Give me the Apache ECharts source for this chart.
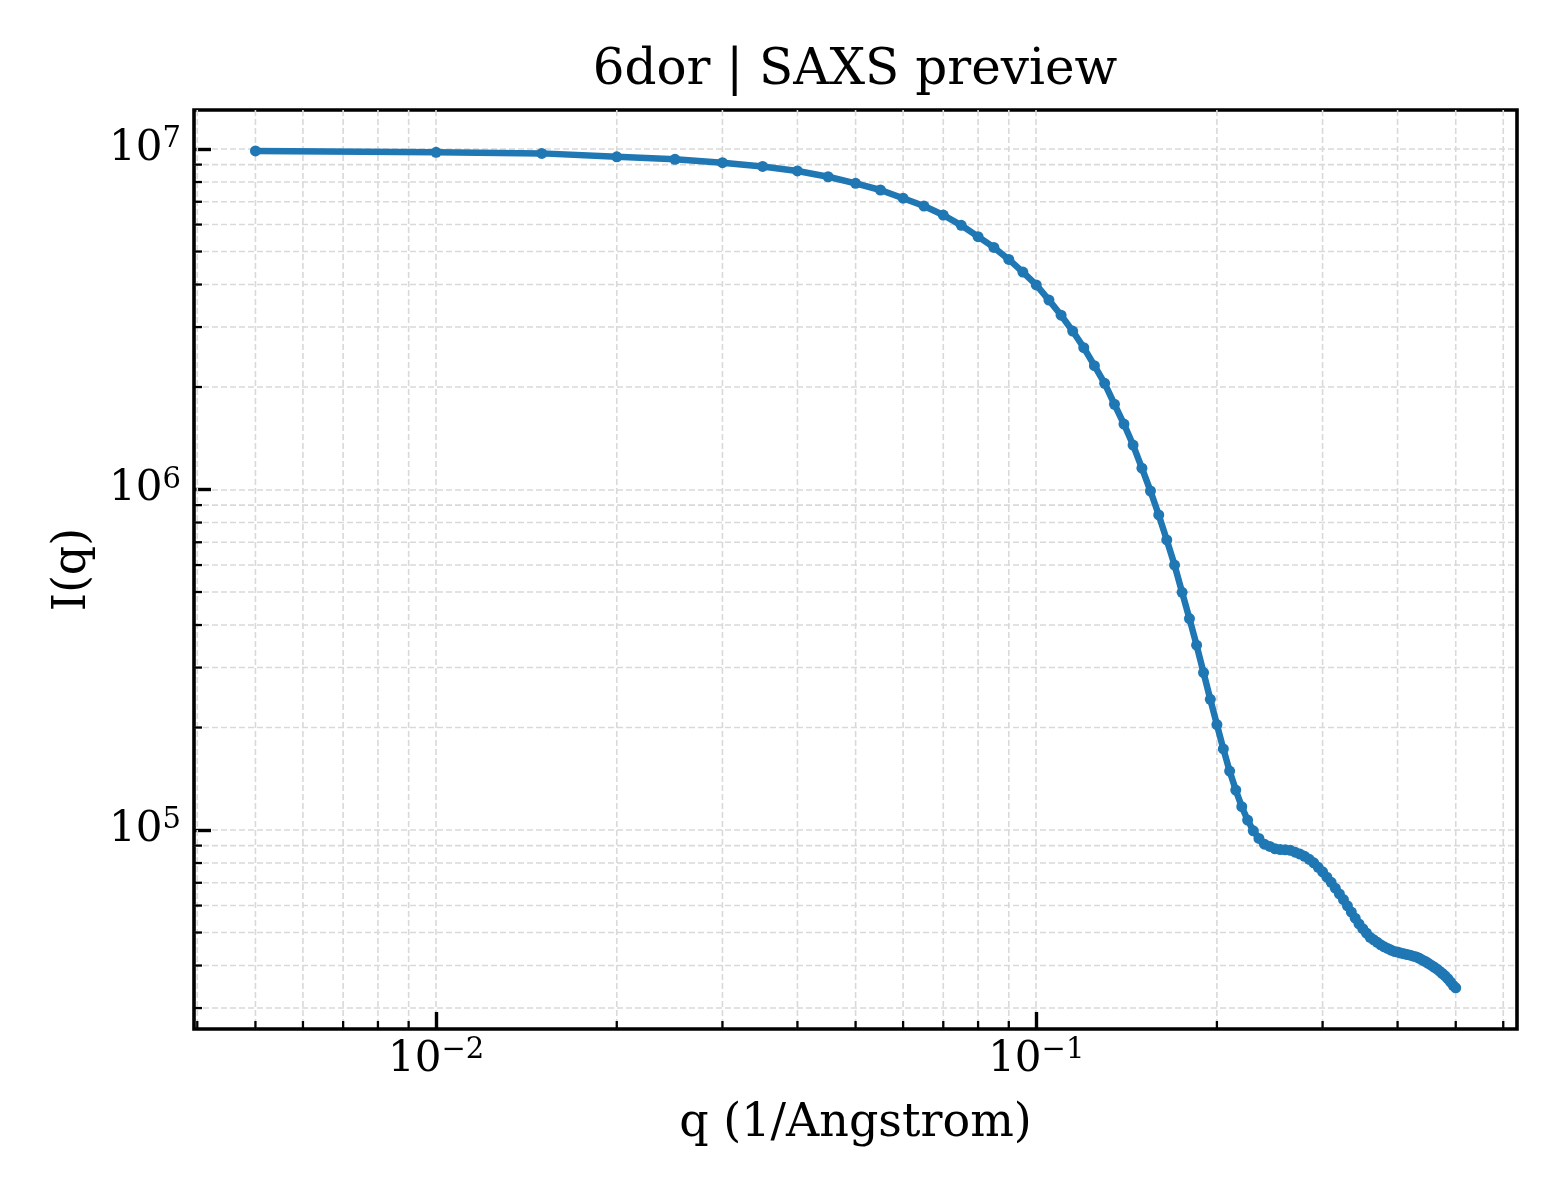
<!DOCTYPE html>
<html>
<head>
<meta charset="utf-8">
<script src="https://cdn.jsdelivr.net/npm/echarts@6/dist/echarts.min.js"></script>
<style>
  html, body { margin: 0; padding: 0; background: #fff; }
  #chart { width: 1560px; height: 1200px; }
</style>
</head>
<body>
<div id="chart"></div>
<script>
// q values (1/Angstrom)
const qValues = [
  0.005, 0.010, 0.015, 0.020, 0.025, 0.030, 0.035, 0.040, 0.045, 0.050,
  0.055, 0.060, 0.065, 0.070, 0.075, 0.080, 0.085, 0.090, 0.095, 0.100,
  0.105, 0.110, 0.115, 0.120, 0.125, 0.130, 0.135, 0.140, 0.145, 0.150,
  0.155, 0.160, 0.165, 0.170, 0.175, 0.180, 0.185, 0.190, 0.195, 0.200,
  0.205, 0.210, 0.215, 0.220, 0.225, 0.230, 0.235, 0.240, 0.245, 0.250,
  0.255, 0.260, 0.265, 0.270, 0.275, 0.280, 0.285, 0.290, 0.295, 0.300,
  0.305, 0.310, 0.315, 0.320, 0.325, 0.330, 0.335, 0.340, 0.345, 0.350,
  0.355, 0.360, 0.365, 0.370, 0.375, 0.380, 0.385, 0.390, 0.395, 0.400,
  0.405, 0.410, 0.415, 0.420, 0.425, 0.430, 0.435, 0.440, 0.445, 0.450,
  0.455, 0.460, 0.465, 0.470, 0.475, 0.480, 0.485, 0.490, 0.495, 0.500
];

// I(q)
const intensity = [
  9.87e6, 9.78e6, 9.71e6, 9.49e6, 9.33e6, 9.12e6, 8.89e6, 8.62e6, 8.29e6, 7.93e6,
  7.58e6, 7.17e6, 6.80e6, 6.40e6, 5.97e6, 5.53e6, 5.14e6, 4.74e6, 4.35e6, 3.99e6,
  3.60e6, 3.25e6, 2.92e6, 2.61e6, 2.31e6, 2.05e6, 1.78e6, 1.557e6, 1.351e6, 1.155e6,
  9.90e5, 8.42e5, 7.11e5, 6.00e5, 4.99e5, 4.18e5, 3.49e5, 2.90e5, 2.42e5, 2.04e5,
  1.73e5, 1.49e5, 1.31e5, 1.171e5, 1.070e5, 9.95e4, 9.45e4, 9.09e4, 8.95e4, 8.81e4,
  8.76e4, 8.75e4, 8.72e4, 8.61e4, 8.50e4, 8.37e4, 8.20e4, 8.01e4, 7.77e4, 7.54e4,
  7.27e4, 7.02e4, 6.75e4, 6.49e4, 6.25e4, 5.99e4, 5.74e4, 5.51e4, 5.30e4, 5.13e4,
  4.98e4, 4.84e4, 4.76e4, 4.68e4, 4.60e4, 4.54e4, 4.49e4, 4.44e4, 4.40e4, 4.38e4,
  4.35e4, 4.33e4, 4.31e4, 4.29e4, 4.26e4, 4.24e4, 4.20e4, 4.15e4, 4.11e4, 4.06e4,
  4.01e4, 3.96e4, 3.91e4, 3.85e4, 3.79e4, 3.73e4, 3.66e4, 3.58e4, 3.50e4, 3.44e4
];

// minor tick positions (log axes)
const xMinorTicks = [
  0.004, 0.005, 0.006, 0.007, 0.008, 0.009,
  0.02, 0.03, 0.04, 0.05, 0.06, 0.07, 0.08, 0.09,
  0.2, 0.3, 0.4, 0.5, 0.6
];
const yMinorTicks = [
  3e4, 4e4, 5e4, 6e4, 7e4, 8e4, 9e4,
  2e5, 3e5, 4e5, 5e5, 6e5, 7e5, 8e5, 9e5,
  2e6, 3e6, 4e6, 5e6, 6e6, 7e6, 8e6, 9e6
];

const FONT = 'DejaVu Serif';
const GRID_COLOR = '#d9d9d9';
const GRID_DASH = [6, 3];

function powLabel(v) {
  const lg = Math.log10(v);
  const e = Math.round(lg);
  if (Math.abs(lg - e) > 1e-6) return '';
  const ex = e < 0 ? '\u2212' + (-e) : String(e);
  return '{b|10}{s|' + ex + '}';
}

const richStyle = {
  b: { fontFamily: FONT, fontSize: 42, lineHeight: 48, color: '#000' },
  s: { fontFamily: FONT, fontSize: 29, lineHeight: 27, verticalAlign: 'top', color: '#000' }
};

function xMinorItem(params, api) {
  const cs = params.coordSys;
  const p = api.coord([api.value(0), api.value(1)]);
  const bottom = cs.y + cs.height;
  return {
    type: 'group',
    children: [
      { type: 'line', shape: { x1: p[0], y1: cs.y, x2: p[0], y2: bottom },
        style: { stroke: GRID_COLOR, lineWidth: 1.6, lineDash: GRID_DASH } },
      { type: 'line', shape: { x1: p[0], y1: bottom, x2: p[0], y2: bottom - 8 },
        style: { stroke: '#000', lineWidth: 2.3 } }
    ]
  };
}

function yMinorItem(params, api) {
  const cs = params.coordSys;
  const p = api.coord([api.value(0), api.value(1)]);
  return {
    type: 'group',
    children: [
      { type: 'line', shape: { x1: cs.x, y1: p[1], x2: cs.x + cs.width, y2: p[1] },
        style: { stroke: GRID_COLOR, lineWidth: 1.6, lineDash: GRID_DASH } },
      { type: 'line', shape: { x1: cs.x, y1: p[1], x2: cs.x + 8, y2: p[1] },
        style: { stroke: '#000', lineWidth: 2.3 } }
    ]
  };
}

const chart = echarts.init(document.getElementById('chart'), null, { renderer: 'canvas' });

const option = {
  backgroundColor: '#fff',
  animation: false,
  textStyle: { fontFamily: FONT },
  title: {
    text: '6dor | SAXS preview',
    left: 850,
    textAlign: 'center',
    top: 41,
    textStyle: { fontFamily: FONT, fontSize: 50, fontWeight: 'normal', color: '#000' }
  },
  grid: {
    left: 194, right: 43, top: 110, bottom: 171,
    show: true, borderColor: '#000', borderWidth: 3.6, backgroundColor: 'transparent',
    containLabel: false,
    outerBoundsMode: 'none'
  },
  xAxis: {
    type: 'log',
    logBase: 10,
    min: 0.00395,
    max: 0.6325,
    name: 'q (1/Angstrom)',
    nameLocation: 'middle',
    nameGap: 72,
    nameTextStyle: { fontFamily: FONT, fontSize: 46, color: '#000' },
    axisLine: { show: false },
    axisTick: { show: true, inside: true, length: 17, lineStyle: { color: '#000', width: 3.4 } },
    axisLabel: { margin: 7, formatter: powLabel, rich: richStyle, showMinLabel: false, showMaxLabel: false },
    splitLine: { show: true, showMinLine: false, showMaxLine: false,
      lineStyle: { color: GRID_COLOR, width: 1.6, type: GRID_DASH } },
    minorTick: { show: false },
    minorSplitLine: { show: false }
  },
  yAxis: {
    type: 'log',
    logBase: 10,
    min: 26040,
    max: 1.302e7,
    name: 'I(q)',
    nameLocation: 'middle',
    nameRotate: 90,
    nameGap: 98,
    nameTextStyle: { fontFamily: FONT, fontSize: 46, color: '#000' },
    axisLine: { show: false },
    axisTick: { show: true, inside: true, length: 17, lineStyle: { color: '#000', width: 3.4 } },
    axisLabel: { margin: 13, formatter: powLabel, rich: richStyle, showMinLabel: false, showMaxLabel: false },
    splitLine: { show: true, showMinLine: false, showMaxLine: false,
      lineStyle: { color: GRID_COLOR, width: 1.6, type: GRID_DASH } },
    minorTick: { show: false },
    minorSplitLine: { show: false }
  },
  series: [
    {
      type: 'custom',
      z: 1,
      silent: true,
      renderItem: xMinorItem,
      data: xMinorTicks.map(v => [v, 1e5])
    },
    {
      type: 'custom',
      z: 1,
      silent: true,
      renderItem: yMinorItem,
      data: yMinorTicks.map(v => [0.01, v])
    },
    {
      name: 'I(q)',
      type: 'line',
      z: 5,
      data: qValues.map((q, i) => [q, intensity[i]]),
      smooth: false,
      symbol: 'circle',
      symbolSize: 11,
      showAllSymbol: true,
      lineStyle: { color: '#1f77b4', width: 6.5 },
      itemStyle: { color: '#1f77b4', borderWidth: 0 }
    }
  ]
};

chart.setOption(option);
</script>
</body>
</html>
